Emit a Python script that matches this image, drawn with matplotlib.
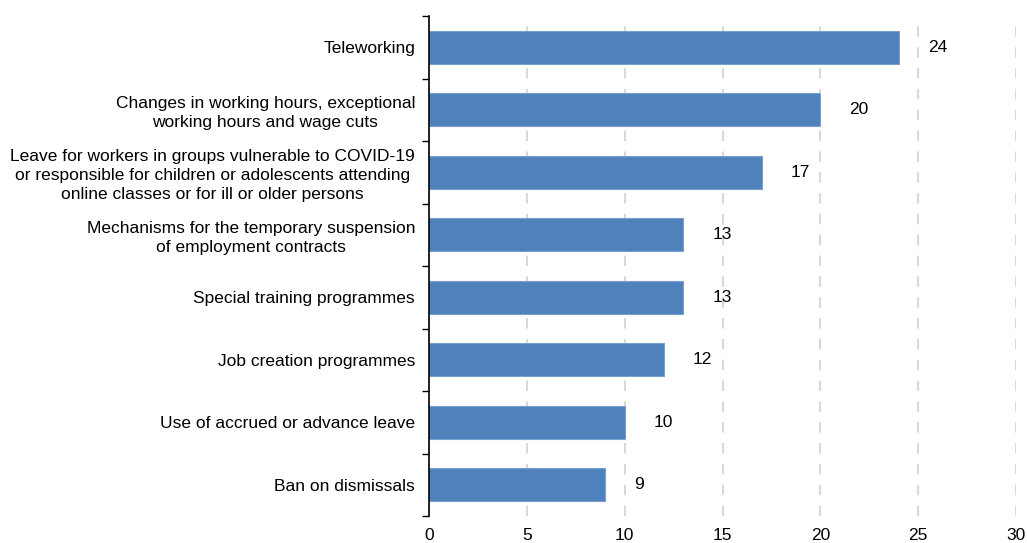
import numpy as np
import matplotlib.pyplot as plt

plt.rcParams['font.family'] = ['Liberation Sans', 'DejaVu Sans']

# Measures, top to bottom
measures = [
    "Teleworking",
    "Changes in working hours, exceptional\nworking hours and wage cuts",
    "Leave for workers in groups vulnerable to COVID-19\nor responsible for children or adolescents attending\nonline classes or for ill or older persons",
    "Mechanisms for the temporary suspension\nof employment contracts",
    "Special training programmes",
    "Job creation programmes",
    "Use of accrued or advance leave",
    "Ban on dismissals",
]
counts = [24, 20, 17, 13, 13, 12, 10, 9]
x_ticks = [0, 5, 10, 15, 20, 25, 30]

FS = 12.5

fig = plt.figure(figsize=(10.27, 5.43), dpi=100)
ax = fig.add_axes([429 / 1027, 27 / 543, 587 / 1027, 500 / 543])

y = np.arange(len(measures))
ax.barh(y, counts, height=0.53, color='#4F81BD', edgecolor='#7aa0d0',
        linewidth=0.8, zorder=3)

for yi, v in zip(y, counts):
    ax.annotate(str(v), (v, yi), xytext=(21, 0), textcoords='offset points',
                ha='left', va='center', fontsize=FS, color='black')

ax.set_xlim(0, 30)
ax.set_ylim(len(measures) - 0.5, -0.5)
ax.set_xticks(x_ticks)
ax.set_xticklabels([str(t) for t in x_ticks], fontsize=FS)
ax.tick_params(axis='x', length=0, pad=9)

ax.set_yticks(y)
ax.set_yticklabels(measures, fontsize=FS, multialignment='center', linespacing=1.32)
ax.tick_params(axis='y', which='major', length=0, pad=10)
ax.set_yticks(np.arange(-0.5, len(measures)), minor=True)
ax.tick_params(axis='y', which='minor', length=5, width=1, color='black', direction='out')

ax.grid(axis='x', color='#d9d9d9', linestyle=(0, (5, 5)), linewidth=1.5, zorder=0)
ax.grid(axis='y', visible=False)

for side in ['top', 'right', 'bottom']:
    ax.spines[side].set_visible(False)
ax.spines['left'].set_color('black')
ax.spines['left'].set_linewidth(1.2)
ax.spines['left'].set_zorder(4)

fig.savefig('out.png', dpi=100)
